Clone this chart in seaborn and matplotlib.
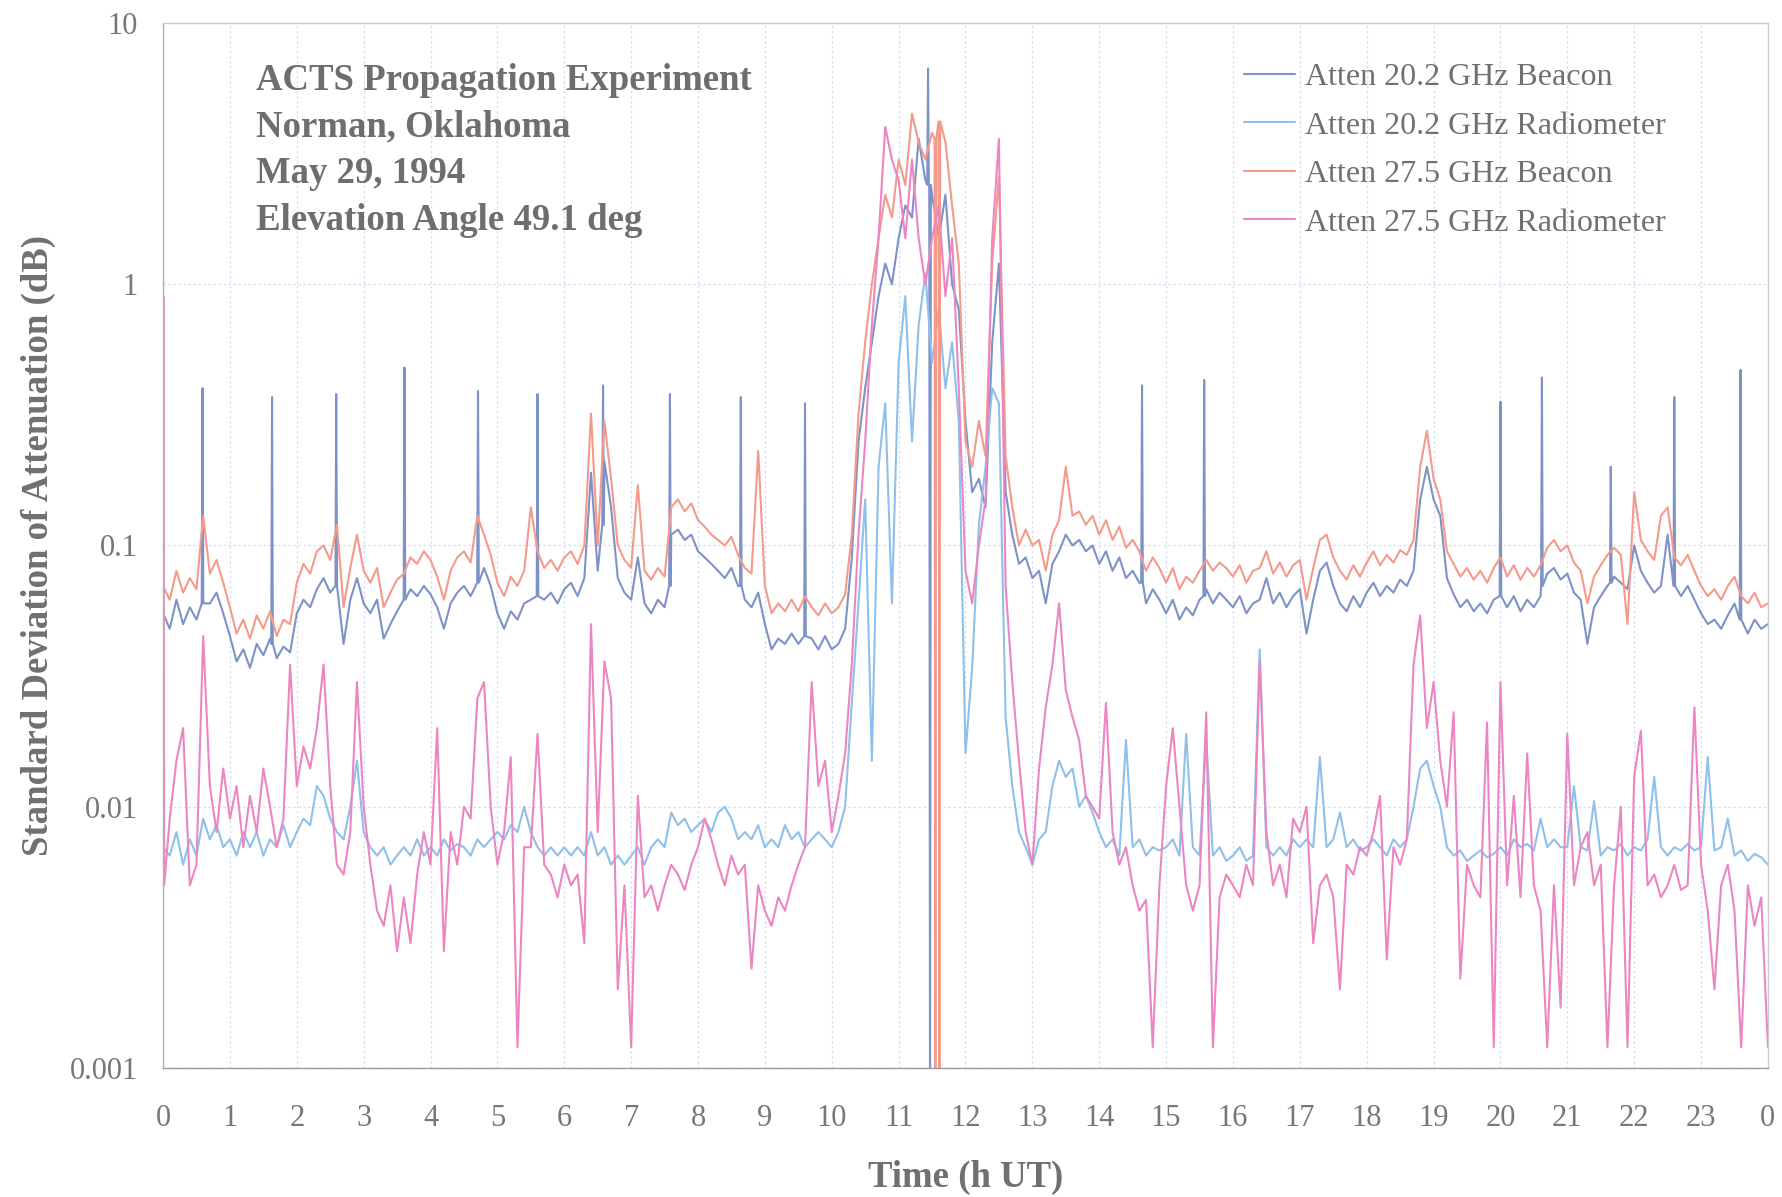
import numpy as np
import pandas as pd
import matplotlib
matplotlib.use('Agg')
import matplotlib.pyplot as plt
import seaborn as sns
from matplotlib.ticker import MultipleLocator, LogLocator, NullFormatter

sns.set_style('white')
plt.rcParams['font.family'] = ['Liberation Serif', 'DejaVu Serif']

# sample times (h UT), one every 6 minutes
hours = np.arange(241) / 10

# values, in milli-dB (0.001 dB)
b20 = [55, 48, 62, 50, 58, 52, 65, 60, 66, 55,
       45, 36, 40, 34, 42, 38, 44, 37, 41, 39,
       55, 62, 58, 68, 75, 66, 72, 42, 62, 75,
       60, 55, 62, 44, 50, 56, 60, 68, 64, 70,
       65, 58, 48, 60, 66, 70, 64, 78, 82, 70,
       55, 48, 56, 52, 60, 62, 70, 62, 66, 60,
       68, 72, 64, 75, 190, 80, 210, 140, 75, 66,
       62, 90, 60, 55, 62, 58, 110, 115, 105, 110,
       95, 90, 85, 80, 75, 82, 70, 62, 58, 66,
       50, 40, 44, 42, 46, 42, 48, 44, 40, 45,
       40, 42, 48, 90, 250, 400, 600, 900, 1200, 1000,
       1500, 2000, 1800, 3600, 2500, 2200, 1500, 2200, 1000, 800,
       300, 160, 180, 140, 600, 1200, 160, 110, 85, 90,
       75, 80, 60, 85, 95, 110, 100, 105, 95, 100,
       85, 95, 80, 90, 75, 80, 72, 60, 68, 62,
       55, 62, 52, 58, 54, 62, 68, 60, 66, 62,
       58, 64, 55, 60, 62, 75, 60, 66, 58, 64,
       68, 46, 62, 80, 86, 70, 60, 56, 64, 58,
       66, 72, 64, 70, 66, 74, 70, 80, 150, 200,
       150, 130, 75, 65, 58, 62, 56, 60, 55, 62,
       70, 58, 64, 56, 62, 58, 64, 78, 82, 74,
       78, 66, 62, 42, 58, 64, 70, 76, 72, 68,
       100, 80, 72, 66, 70, 110, 68, 64, 70, 62,
       55, 50, 52, 48, 54, 60, 50, 46, 52, 48,
       50]

r20 = [7, 6.5, 8, 6, 7.5, 6.5, 9, 7.5, 8.5, 7,
       7.5, 6.5, 8, 7, 8, 6.5, 7.5, 7, 8.5, 7,
       8, 9, 8.5, 12, 11, 9, 8, 7.5, 10, 15,
       8, 7, 6.5, 7, 6, 6.5, 7, 6.5, 7.5, 6.5,
       7, 6.5, 7.5, 6.8, 7.2, 7, 6.5, 7.5, 7, 7.5,
       8, 7.5, 8.5, 8, 10, 8, 7, 6.5, 7, 6.5,
       7, 6.5, 7, 6.5, 8, 6.5, 7, 6, 6.5, 6,
       6.5, 7, 6, 7, 7.5, 7, 9.5, 8.5, 9, 8,
       8.5, 9, 8, 9.5, 10, 9, 7.5, 8, 7.5, 8.5,
       7, 7.5, 7, 8.5, 7.5, 8, 7, 7.5, 8, 7.5,
       7, 8, 10, 25, 60, 150, 15, 200, 350, 60,
       500, 900, 250, 700, 1100, 500, 800, 400, 600, 300,
       16, 34, 120, 200, 400, 350, 22, 12, 8, 7,
       6, 7.5, 8, 12, 15, 13, 14, 10, 11, 9.5,
       8, 7, 7.5, 6.5, 18, 7, 7.5, 6.5, 7, 6.8,
       7, 7.5, 6.5, 19, 7, 6.5, 18, 6.5, 7, 6.2,
       6.5, 7, 6.2, 6.5, 40, 7, 6.5, 7, 6.5, 7.5,
       7, 7.5, 7, 15.5, 7, 7.5, 9.5, 7, 7.5, 6.8,
       7, 7.5, 7, 6.5, 7.5, 7, 7.5, 10, 14, 15,
       12, 10, 7, 6.5, 6.8, 6.2, 6.5, 6.8, 6.4, 6.6,
       7, 6.5, 7.5, 7, 7.2, 6.8, 9, 7, 7.5, 7,
       7, 12, 7, 6.8, 10.5, 6.5, 7, 6.8, 7.2, 6.5,
       7, 6.8, 7.5, 13, 7, 6.5, 7, 6.8, 7.2, 6.8,
       7, 15.5, 6.8, 7, 9, 6.5, 6.8, 6.2, 6.6, 6.4,
       6]

b27 = [70, 62, 80, 66, 75, 68, 130, 78, 88, 72,
       58, 46, 52, 44, 54, 48, 56, 45, 52, 50,
       72, 85, 78, 95, 100, 88, 120, 58, 82, 110,
       80, 72, 82, 58, 66, 74, 78, 90, 85, 95,
       88, 76, 62, 80, 90, 95, 86, 130, 110, 92,
       72, 64, 76, 70, 80, 140, 95, 82, 88, 80,
       90, 95, 85, 100, 320, 100, 300, 180, 100, 88,
       82, 170, 80, 74, 82, 76, 140, 150, 135, 145,
       125, 118, 110, 105, 100, 108, 92, 82, 78, 230,
       70, 55, 60, 56, 62, 56, 64, 58, 54, 60,
       55, 58, 65, 110, 320, 600, 1000, 1500, 2200, 1800,
       3000, 2400, 4500, 3500, 3000, 3800, 5300, 3500, 2000, 1200,
       250, 200, 300, 220, 1200, 2600, 220, 140, 100, 115,
       100, 105, 80, 110, 125, 200, 130, 135, 120, 130,
       110, 125, 105, 118, 98, 105, 95, 80, 90, 82,
       72, 82, 68, 76, 72, 80, 88, 80, 86, 82,
       76, 84, 72, 80, 82, 95, 78, 86, 76, 84,
       88, 62, 82, 105, 110, 90, 80, 74, 84, 76,
       86, 95, 84, 92, 86, 96, 92, 105, 200, 275,
       180, 150, 95, 85, 76, 82, 74, 80, 72, 82,
       90, 76, 84, 74, 82, 76, 84, 98, 105, 95,
       100, 86, 80, 60, 76, 84, 92, 98, 92, 50,
       160, 105, 95, 88, 130, 140, 90, 84, 92, 80,
       70, 64, 68, 62, 70, 76, 64, 60, 66, 58,
       60]

r27 = [5, 9, 15, 20, 5, 6, 45, 12, 8, 14,
       9, 12, 7, 11, 8, 14, 10, 7, 9, 35,
       12, 17, 14, 20, 35, 12, 6, 5.5, 8, 30,
       10, 6, 4, 3.5, 5, 2.8, 4.5, 3, 5.5, 8,
       6, 20, 2.8, 8, 6, 10, 9, 26, 30, 10,
       6, 8, 15.5, 1.2, 7, 7, 19, 6, 5.5, 4.5,
       6, 5, 5.5, 3, 50, 8, 36, 26, 2, 5,
       1.2, 11, 4.5, 5, 4, 5, 6, 5.5, 4.8, 6,
       7, 9, 7.5, 6, 5, 6.5, 5.5, 6, 2.4, 5,
       4, 3.5, 4.5, 4, 5, 6, 7, 30, 12, 15,
       8, 11, 16, 35, 110, 250, 700, 1500, 4000, 3000,
       2500, 1500, 3000, 1500, 1000, 1500, 2000, 900, 1500, 400,
       80, 60, 100, 150, 1500, 3600, 70, 30, 15, 8,
       6, 14, 24, 35, 60, 28, 22, 18, 11, 10,
       9, 25, 8, 6, 7, 5, 4, 4.4, 1.2, 5,
       12, 20, 10, 5, 4, 5, 23, 1.2, 4.5, 5.5,
       5, 4.5, 6, 5, 36, 8, 5, 6, 4.5, 9,
       8, 10, 3, 5, 5.5, 4.5, 2, 6, 5.5, 7,
       6.5, 8, 11, 2.6, 7, 6, 7.5, 35, 54, 20,
       30, 15, 10, 23, 2.2, 6, 5, 4.5, 21, 1.2,
       30, 5, 11, 4.5, 16, 5, 4, 1.2, 5, 1.7,
       19, 5, 7, 8, 5, 6, 1.2, 5, 10, 1.2,
       13, 19.5, 5, 5.5, 4.5, 5, 6, 4.8, 5, 24,
       6, 4, 2, 5, 6, 4, 1.2, 5, 3.5, 4.5,
       1.2]

# narrow spikes / dropouts: (time h, peak mdB, foot mdB)
b20_spikes = [(0.59, 400, 60), (1.63, 370, 42), (2.59, 380, 70), (3.61, 480, 62),
              (4.71, 390, 72), (5.60, 380, 64), (6.58, 410, 120), (7.58, 380, 70),
              (8.64, 370, 70), (9.60, 350, 45), (11.44, 6700, 2400), (11.47, 0.5, 2400),
              (14.64, 410, 72), (15.57, 430, 64), (20.00, 355, 64), (20.62, 440, 70),
              (21.65, 200, 72), (22.60, 370, 70), (23.59, 470, 52)]
b27_spikes = [(11.55, 0.5, 3600), (11.61, 0.5, 4200)]
r27_spikes = [(0.005, 900, 5)]

names = ['Atten 20.2 GHz Beacon', 'Atten 20.2 GHz Radiometer',
         'Atten 27.5 GHz Beacon', 'Atten 27.5 GHz Radiometer']
colors = ['#7d92c6', '#8fc0ea', '#f59a8b', '#ec86c3']


def build(name, base, spikes=()):
    pts = [(t, v) for t, v in zip(hours, base)
           if all(abs(t - s[0]) > 0.015 for s in spikes)]
    for ts, peak, foot in spikes:
        pts += [(ts - 0.012, foot), (ts, peak), (ts + 0.012, foot)]
    pts.sort()
    d = pd.DataFrame(pts, columns=['time', 'atten'])
    d['atten'] = d['atten'] / 1000
    d['series'] = name
    return d


df = pd.concat([build(names[0], b20, b20_spikes),
                build(names[1], r20),
                build(names[2], b27, b27_spikes),
                build(names[3], r27, r27_spikes)], ignore_index=True)

fig = plt.figure(figsize=(17.82, 11.97), dpi=100)
ax = fig.add_axes([0.0915, 0.1078, 0.9006, 0.873])

sns.lineplot(data=df, x='time', y='atten', hue='series', hue_order=names,
             palette=dict(zip(names, colors)), estimator=None, linewidth=1.5, ax=ax)

ax.set_yscale('log')
ax.set_xlim(0, 24)
ax.set_ylim(0.001, 10)

grey = '#777777'
ax.set_xticks(range(25))
ax.set_xticklabels([str(h % 24) for h in range(25)])
ax.xaxis.set_minor_locator(MultipleLocator(0.2))
ax.set_yticks([0.001, 0.01, 0.1, 1, 10])
ax.set_yticklabels(['0.001', '0.01', '0.1', '1', '10'])
ax.yaxis.set_minor_locator(LogLocator(base=10, subs=np.arange(2, 10)))
ax.yaxis.set_minor_formatter(NullFormatter())
ax.tick_params(axis='x', which='major', direction='in', length=8, color='#999999',
               labelsize=22, labelcolor=grey, pad=26)
ax.tick_params(axis='x', which='minor', direction='in', length=5, color='#aaaaaa')
ax.tick_params(axis='y', which='major', direction='in', length=8, color='#999999',
               labelsize=22, labelcolor=grey, pad=18)
ax.tick_params(axis='y', which='minor', direction='in', length=5, color='#aaaaaa')

ax.grid(True, which='major', color='#d6dcf3', linestyle=(0, (2, 2)), linewidth=0.9)
for side, c in [('left', '#a9b8a2'), ('bottom', '#9a9a9a'), ('top', '#cccccc'), ('right', '#cccccc')]:
    ax.spines[side].set_color(c)
    ax.spines[side].set_linewidth(1.0)

ax.set_xlabel('Time (h UT)', fontsize=26.5, fontweight='bold', color='#707070', labelpad=19)
ax.set_ylabel('Standard Deviation of Attenuation (dB)', fontsize=26.5, fontweight='bold',
              color='#707070', labelpad=10)

info = ['ACTS Propagation Experiment', 'Norman, Oklahoma', 'May 29, 1994',
        'Elevation Angle 49.1 deg']
for i, line in enumerate(info):
    ax.text(0.058, 0.945 - i * 0.0446, line, transform=ax.transAxes, fontsize=26.5,
            fontweight='bold', color='#6e6e6e', va='center')

handles, labels = ax.get_legend_handles_labels()
ax.legend(handles, labels, loc='upper left', bbox_to_anchor=(0.6735, 0.962),
          frameon=False, fontsize=23, handlelength=1.6, handletextpad=0.3,
          labelspacing=0.6, borderpad=0, borderaxespad=0, labelcolor='#707070')

fig.savefig('out.png', dpi=100)
